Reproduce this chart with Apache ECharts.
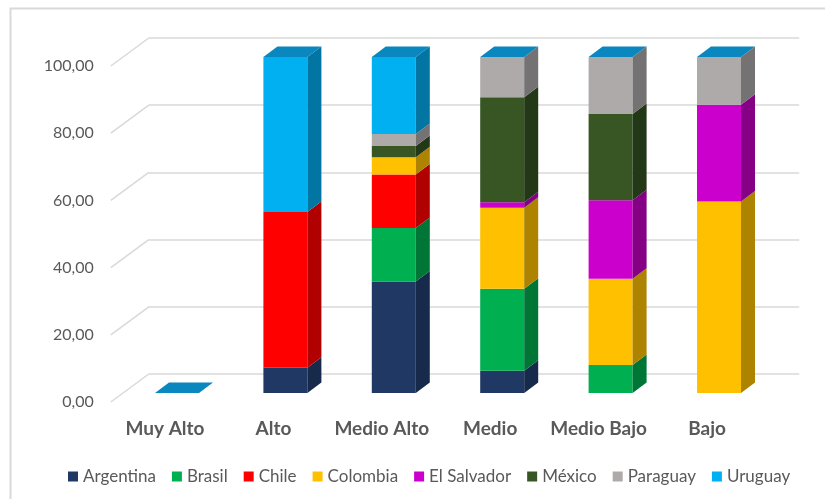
<!DOCTYPE html>
<html>
<head>
<meta charset="utf-8">
<style>
  html, body { margin: 0; padding: 0; background: #ffffff; }
  #chart { width: 825px; height: 499px; }
</style>
<script src="https://cdn.jsdelivr.net/npm/echarts@6/dist/echarts.min.js"></script>
</head>
<body>
<div id="chart"></div>
<script>
// Categories and per-country shares (%) for each level
const categories = ['Muy Alto', 'Alto', 'Medio Alto', 'Medio', 'Medio Bajo', 'Bajo'];
const argentina  = [0, 7.5, 33.2, 6.6, 0, 0];
const brasil     = [0, 0, 15.9, 24.4, 8.3, 0];
const chile      = [0, 46.4, 15.9, 0, 0, 0];
const colombia   = [0, 0, 5.2, 24.1, 25.7, 57.0];
const elSalvador = [0, 0, 0, 1.7, 23.4, 28.8];
const mexico     = [0, 0, 3.3, 31.2, 25.6, 0];
const paraguay   = [0, 0, 3.6, 12.0, 17.0, 14.2];
const uruguay    = [0, 46.1, 22.9, 0, 0, 0];
const yTicks     = [0, 20, 40, 60, 80, 100];

const countries = [
  { name: 'Argentina',   values: argentina,  color: '#1F3864', side: '#172A4C' },
  { name: 'Brasil',      values: brasil,     color: '#00B050', side: '#007636' },
  { name: 'Chile',       values: chile,      color: '#FF0000', side: '#B00000' },
  { name: 'Colombia',    values: colombia,   color: '#FFC000', side: '#AD8300' },
  { name: 'El Salvador', values: elSalvador, color: '#CC00CC', side: '#850085' },
  { name: 'México',      values: mexico,     color: '#375623', side: '#223817' },
  { name: 'Paraguay',    values: paraguay,   color: '#AEAAAA', side: '#747272' },
  { name: 'Uruguay',     values: uruguay,    color: '#00B0F0', side: '#0375A3' }
];
const TOP_COLOR = '#0A87BE';

// pseudo-3D geometry (pixels)
const BAR_W = 44;       // front face width
const DEPTH_X = 14;     // box depth, horizontal
const DEPTH_Y = -10.5;  // box depth, vertical
const SHIFT_X = 12;     // bars sit behind the floor's front edge
const SHIFT_Y = -9;
const WALL_X = 38;      // back wall offset from the front axis
const WALL_Y = -28;

const FONT = 'Lato';
const TEXT = '#595959';
const GRID_COLOR = '#D9D9D9';

// running bases for stacking
const bases = countries.map(() => new Array(categories.length).fill(0));
for (let i = 0; i < categories.length; i++) {
  let acc = 0;
  countries.forEach((c, si) => { bases[si][i] = acc; acc += c.values[i]; });
}

const frontGrid = { left: 110.8, top: 66, width: 650.4, height: 336 };
const wallGrid = {
  left: frontGrid.left + WALL_X, top: frontGrid.top + WALL_Y,
  width: frontGrid.width, height: frontGrid.height
};

const boxSeries = countries.map((c, si) => ({
  type: 'custom',
  name: c.name,
  xAxisIndex: 0,
  yAxisIndex: 0,
  itemStyle: { color: c.color },
  data: c.values.map((v, i) => [i, v, bases[si][i]]),
  renderItem: function (params, api) {
    const ci = api.value(0), v = api.value(1), b = api.value(2);
    const p0 = api.coord([ci, b]);
    const p1 = api.coord([ci, b + v]);
    const xl = p0[0] + SHIFT_X - BAR_W / 2;
    const xr = xl + BAR_W;
    const yb = p0[1] + SHIFT_Y;
    const yt = p1[1] + SHIFT_Y;
    const children = [];
    if (v > 0) {
      children.push({
        type: 'rect',
        shape: { x: xl, y: yt, width: BAR_W, height: yb - yt },
        style: { fill: c.color }
      });
      children.push({
        type: 'polygon',
        shape: { points: [[xr, yb], [xr + DEPTH_X, yb + DEPTH_Y], [xr + DEPTH_X, yt + DEPTH_Y], [xr, yt]] },
        style: { fill: c.side }
      });
    }
    if (si === countries.length - 1) {
      children.push({
        type: 'polygon',
        shape: { points: [[xl, yt], [xl + DEPTH_X, yt + DEPTH_Y], [xr + DEPTH_X, yt + DEPTH_Y], [xr, yt]] },
        style: { fill: TOP_COLOR }
      });
    }
    return { type: 'group', children: children };
  }
}));

// diagonal connectors from the front axis to the back wall gridlines
const wallEdges = {
  type: 'custom',
  name: 'edges',
  xAxisIndex: 0,
  yAxisIndex: 0,
  silent: true,
  z: 1,
  data: yTicks.map(t => [0, t]),
  renderItem: function (params, api) {
    const y = api.coord([0, api.value(1)])[1];
    const x = params.coordSys.x;
    return {
      type: 'line',
      shape: { x1: x, y1: y, x2: x + WALL_X, y2: y + WALL_Y },
      style: { stroke: GRID_COLOR, lineWidth: 1.5 }
    };
  }
};

const chart = echarts.init(document.getElementById('chart'), null, { renderer: 'canvas' });
chart.setOption({
  animation: false,
  backgroundColor: '#ffffff',
  color: countries.map(c => c.color),
  graphic: [{
    type: 'rect',
    shape: { x: 10.5, y: 8.5, width: 900, height: 600 },
    style: { fill: null, stroke: GRID_COLOR, lineWidth: 2 },
    silent: true,
    z: -10
  }],
  grid: [
    Object.assign({}, frontGrid),
    Object.assign({}, wallGrid)
  ],
  xAxis: [
    {
      type: 'category', gridIndex: 0, data: categories,
      axisLine: { show: false }, axisTick: { show: false },
      axisLabel: { interval: 0, color: TEXT, fontFamily: FONT, fontWeight: 'bold', fontSize: 19, margin: 17 }
    },
    {
      type: 'category', gridIndex: 1, data: categories, show: false
    }
  ],
  yAxis: [
    {
      type: 'value', gridIndex: 0, min: 0, max: 100, interval: 20,
      axisLine: { show: false }, axisTick: { show: false }, splitLine: { show: false },
      axisLabel: {
        color: TEXT, fontFamily: FONT, fontSize: 16, margin: 17,
        formatter: v => v.toFixed(2).replace('.', ',')
      }
    },
    {
      type: 'value', gridIndex: 1, min: 0, max: 100, interval: 20,
      axisLine: { show: false }, axisTick: { show: false }, axisLabel: { show: false },
      splitLine: { show: true, lineStyle: { color: GRID_COLOR, width: 1.5 } }
    }
  ],
  legend: {
    data: countries.map(c => ({ name: c.name, icon: 'rect' })),
    left: 68,
    top: 468,
    padding: 0,
    itemWidth: 10,
    itemHeight: 10,
    itemGap: 16,
    textStyle: { color: TEXT, fontFamily: FONT, fontSize: 17 }
  },
  series: [wallEdges].concat(boxSeries)
});
</script>
</body>
</html>
